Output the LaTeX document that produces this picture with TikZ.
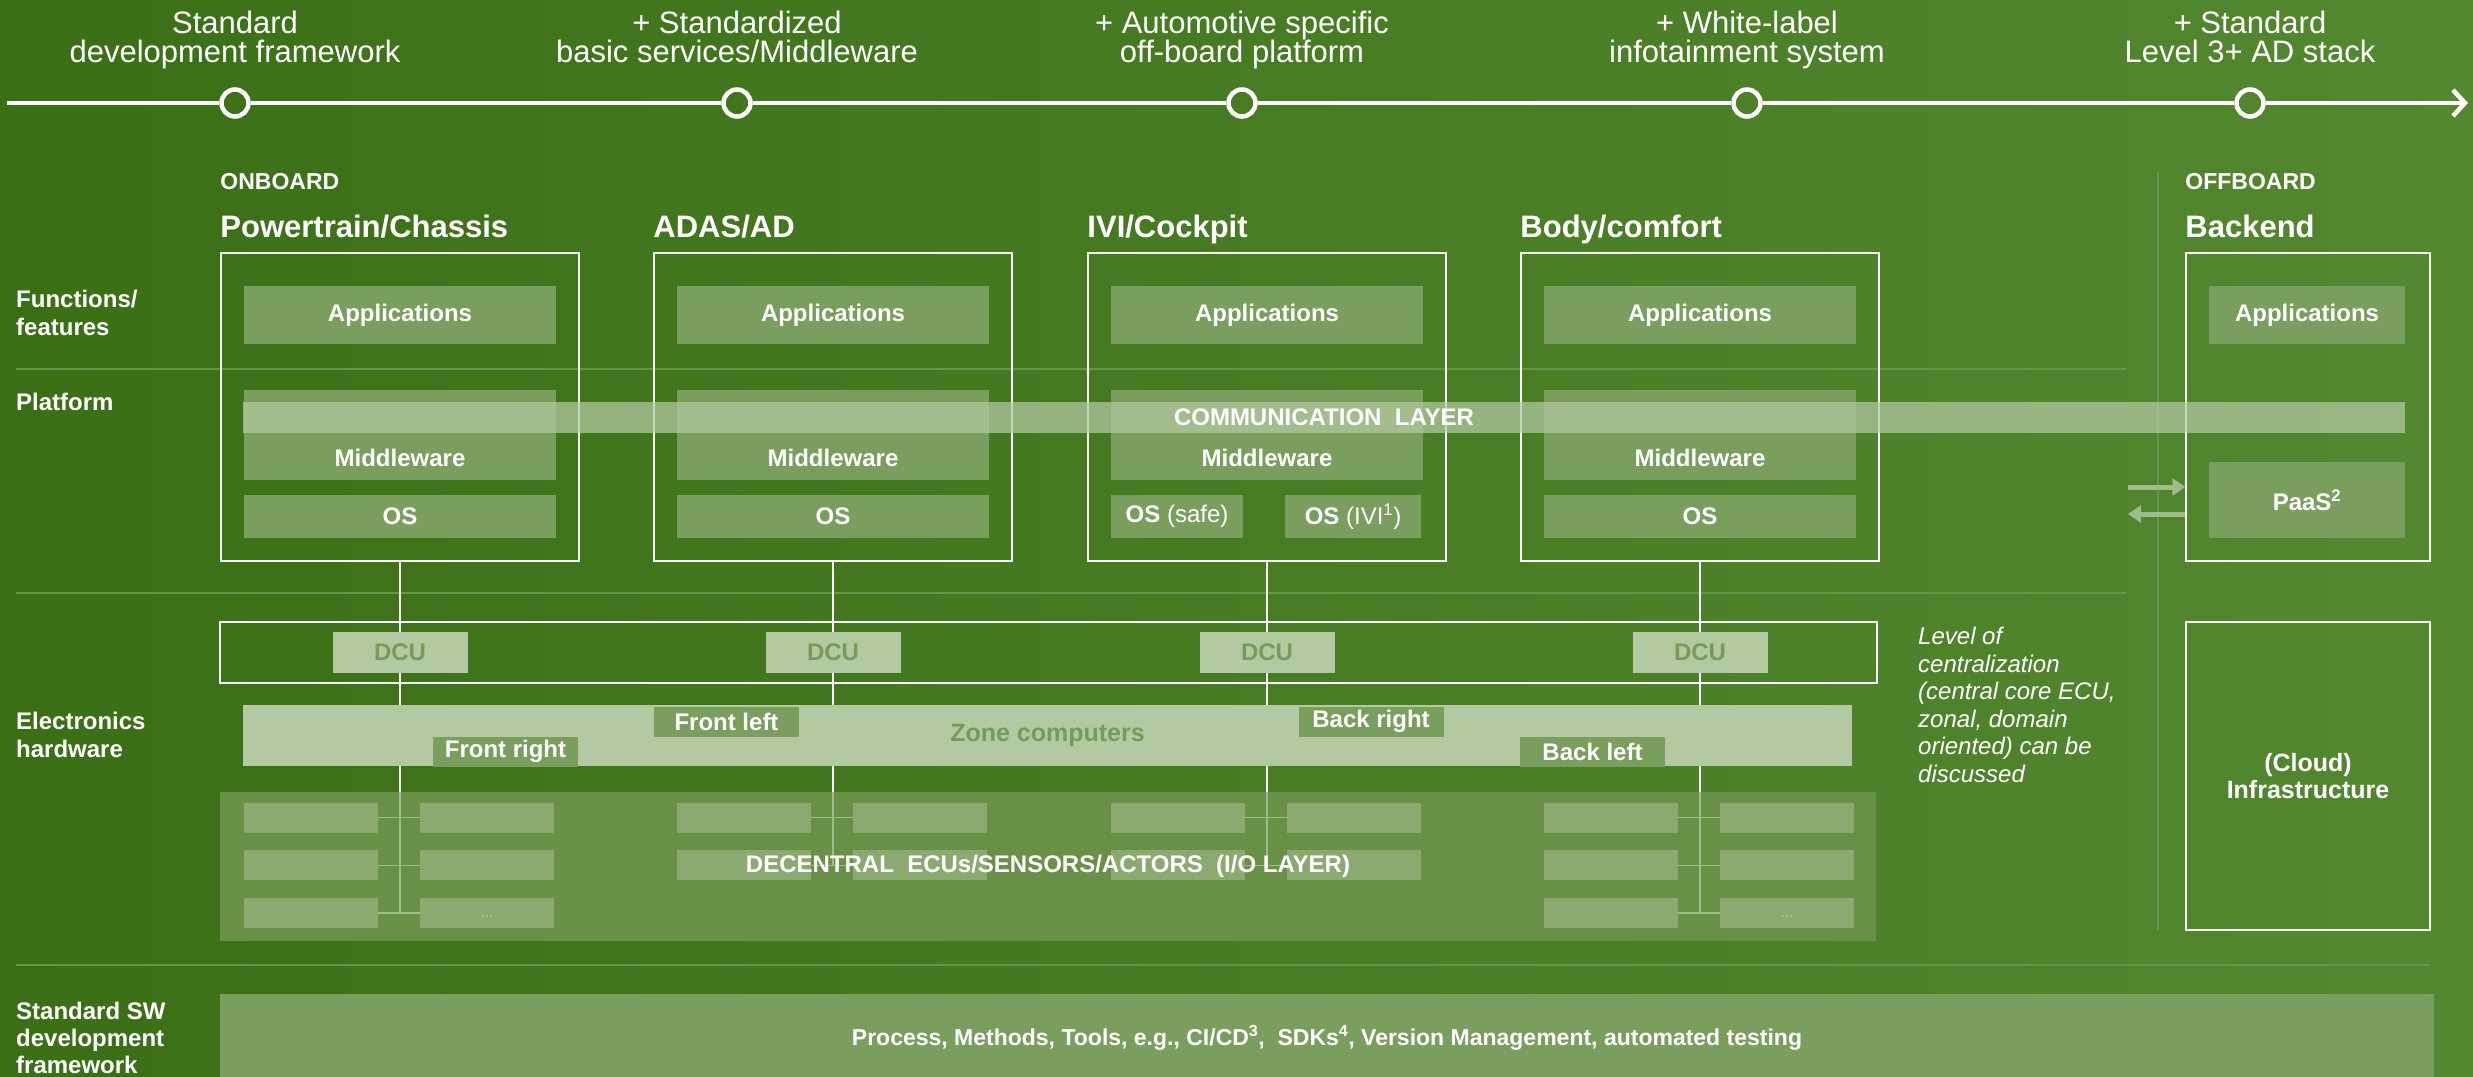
\documentclass[tikz,border=0pt]{standalone}
\usepackage{fontspec}
\setmainfont{Liberation Sans}
\usetikzlibrary{arrows.meta,calc,positioning}

\definecolor{bgL}{RGB}{59,111,22}
\definecolor{bgR}{RGB}{84,136,48}
\definecolor{layer}{RGB}{122,158,94}
\definecolor{pale}{RGB}{179,201,161}
\definecolor{sepc}{RGB}{106,146,76}
\definecolor{ecuarea}{RGB}{104,145,71}
\definecolor{ecubox}{RGB}{138,170,114}
\definecolor{faint}{RGB}{160,188,140}
\definecolor{dcutxt}{RGB}{118,156,90}
\definecolor{dotc}{RGB}{172,196,152}

\newcommand{\fsz}[2]{\fontsize{#1}{#2}\selectfont}

\begin{document}
\begin{tikzpicture}[x=1pt, y=-1pt,
  mile/.style={circle, draw=white, line width=4.5pt, minimum size=27pt, inner sep=0pt},
  tline/.style={white, line width=4.5pt},
  toplbl/.style={text=white, align=center, inner sep=0pt, font=\fsz{31}{29}},
  tag/.style={text=white, inner sep=0pt, font=\bfseries\fsz{23}{28}},
  head/.style={text=white, inner sep=0pt, font=\bfseries\fsz{31}{36}},
  rowlbl/.style={text=white, inner sep=0pt, align=left, font=\bfseries\fsz{24}{28}},
  dom/.style={draw=white, line width=1.5pt, minimum width=358pt, minimum height=308pt, inner sep=0pt},
  lyr/.style={fill=layer, text=white, inner sep=0pt, minimum width=312pt, font=\bfseries\fsz{24}{28}},
  lyrtxt/.style={text=white, inner sep=0pt, font=\bfseries\fsz{24}{28}},
  comm/.style={fill=pale, fill opacity=0.73, text opacity=1, text=white, inner sep=0pt,
    minimum width=2162pt, minimum height=31pt, font=\bfseries\fsz{24}{28}},
  sep/.style={sepc, line width=1.5pt},
  dcu/.style={fill=pale, text=dcutxt, minimum width=135pt, minimum height=41pt, inner sep=0pt, font=\bfseries\fsz{24}{28}},
  zonetag/.style={fill=layer, text=white, minimum width=145pt, minimum height=30pt, inner sep=0pt, font=\bfseries\fsz{24}{28}},
  ecu/.style={fill=ecubox, minimum width=134pt, minimum height=30pt, inner sep=0pt},
  vline/.style={white, line width=1.5pt},
  fline/.style={faint, line width=1.5pt},
  paas/.style={faint, line width=5pt, -{Triangle[length=13pt,width=17pt]}}]

\useasboundingbox (0,0) rectangle (2473,1076);
\shade[left color=bgL, right color=bgR] (0,0) rectangle (2473,1076);

% timeline
\coordinate (tl0) at (7,103);
\coordinate (tl6) at (2468,103);
\foreach \x [count=\i] in {235,737,1242,1747,2250}
  \node[mile] (m\i) at (\x,103) {};
\draw[tline] (tl0) -- (m1) -- (m2) -- (m3) -- (m4) -- (m5);
\draw[tline, -{Straight Barb[length=12pt,width=26pt]}] (m5) -- (tl6);
\node[toplbl, anchor=north] (t1) at ($(m1)+(0,-92)$) {Standard\\development framework};
\node[toplbl, anchor=north] (t2) at ($(m2)+(0,-92)$) {+ Standardized\\basic services/Middleware};
\node[toplbl, anchor=north] (t3) at ($(m3)+(0,-92)$) {+ Automotive specific\\off-board platform};
\node[toplbl, anchor=north] (t4) at ($(m4)+(0,-92)$) {+ White-label\\infotainment system};
\node[toplbl, anchor=north] (t5) at ($(m5)+(0,-92)$) {+ Standard\\Level 3+ AD stack};

% row separators
\draw[sep] (16,369) -- (2126,369);
\draw[sep] (16,593) -- (2126,593);
\draw[sep] (16,965) -- (2429,965);
\draw[sep] (2158,172) -- (2158,930);

\node[rowlbl, anchor=north west] (r1) at (16,290) {Functions/\\features};
\node[rowlbl, anchor=north west] (r2) at (16,393) {Platform};
\node[rowlbl, anchor=north west] (r3) at (16,712) {Electronics\\hardware};
\node[rowlbl, anchor=north west, font=\bfseries\fsz{24}{27}] (r4) at (16,1002) {Standard SW\\development\\framework};

% onboard domains
\foreach \n/\x in {pt/400, adas/833, ivi/1267, body/1700} {
  \node[dom] (\n) at (\x,407) {};
  \node[lyr, minimum height=58pt] (\n-app) at (\x,315) {Applications};
  \node[lyr, minimum height=90pt] (\n-mw) at (\x,435) {};
  \node[lyrtxt] (\n-mwt) at ($(\n-mw.south)+(0,-22)$) {Middleware};
}
\foreach \n in {pt, adas, body}
  \node[lyr, minimum height=43pt] (\n-os) at (\n |- 0,516.5) {OS};
\node[lyr, minimum width=132pt, minimum height=43pt] (ivi-os1) at (1177,516.5) {OS \mdseries(safe)};
\node[lyr, minimum width=136pt, minimum height=43pt] (ivi-os2) at (1353,516.5) {OS \mdseries(IVI\textsuperscript{1})};

\node[tag, anchor=base west] (onb) at ($(pt.north west)+(0,-63)$) {ONBOARD};
\node[head, anchor=base west] (pt-h) at ($(pt.north west)+(0,-15)$) {Powertrain/Chassis};
\node[head, anchor=base west] (adas-h) at ($(adas.north west)+(0,-15)$) {ADAS/AD};
\node[head, anchor=base west] (ivi-h) at ($(ivi.north west)+(0,-15)$) {IVI/Cockpit};
\node[head, anchor=base west] (body-h) at ($(body.north west)+(0,-15)$) {Body/comfort};

% offboard
\node[dom, minimum width=244pt] (be) at (2308,407) {};
\node[lyr, minimum width=196pt, minimum height=58pt] (be-app) at (2307,315) {Applications};
\node[lyr, minimum width=196pt, minimum height=76pt] (paas) at (2307,500) {PaaS\textsuperscript{2}};
\node[tag, anchor=base west] (offb) at ($(be.north west)+(0,-63)$) {OFFBOARD};
\node[head, anchor=base west] (be-h) at ($(be.north west)+(0,-15)$) {Backend};
\coordinate (ar1) at (2128,487);
\coordinate (ar2) at (2128,514);
\draw[paas] (ar1) -- (ar1 -| be.west);
\draw[paas] (ar2 -| be.west) -- (ar2);

\node[comm] (comm) at (1324,417.5) {COMMUNICATION\ \ LAYER};

% electronics hardware
\node[dom, minimum width=1657pt, minimum height=61pt] (dcurow) at (1048.5,652.5) {};
\node[fill=pale, minimum width=1609pt, minimum height=61pt, inner sep=0pt,
  text=dcutxt, font=\bfseries\fsz{25}{28}] (zone) at (1047.5,735.5) {Zone computers};
\node[fill=ecuarea, minimum width=1656pt, minimum height=149pt, inner sep=0pt] (io) at (1048,866.5) {};

\foreach \n/\x/\r in {pt/400/3, adas/833/2, ivi/1267/2, body/1700/3} {
  \node[dcu] (\n-dcu) at (\x,652.5) {DCU};
  \draw[vline] (\n) -- (\n-dcu);
  \draw[vline] (\n-dcu) -- (\n-dcu |- zone.north);
  \draw[vline] (\n-dcu |- zone.south) -- (\n-dcu |- io.north);
  \foreach \k in {1,...,\r} {
    \pgfmathsetmacro\ry{817.5+(\k-1)*47.75}
    \node[ecu] (\n-l\k) at ({\x-89},\ry) {};
    \node[ecu] (\n-r\k) at ({\x+87},\ry) {};
    \draw[fline] (\n-l\k) -- (\n-r\k);
  }
  \draw[fline] (\n-dcu |- io.north) -- (\n-dcu |- \n-l\r);
}
\node[text=dotc, font=\fsz{16}{18}] (pt-dots) at ($(pt-r3)+(0,4)$) {...};
\node[text=dotc, font=\fsz{16}{18}] (body-dots) at ($(body-r3)+(0,4)$) {...};

\node[zonetag] (fr) at (505.5,751.5) {Front right};
\node[zonetag] (fl) at (726.5,721.5) {Front left};
\node[zonetag] (br) at (1371,721.5) {Back right};
\node[zonetag] (bl) at (1592.5,751.5) {Back left};

\node[lyrtxt] (iot) at (io) {DECENTRAL\ \ ECUs/SENSORS/ACTORS\ \ (I/O LAYER)};

\node[text=white, inner sep=0pt, align=left, anchor=north west, font=\itshape\fsz{24}{27.5}] (note) at (1918,627)
  {Level of\\centralization\\(central core ECU,\\zonal, domain\\oriented) can be\\discussed};

\node[dom, minimum width=244pt, align=center, text=white, font=\bfseries\fsz{25}{27}] (cloud) at (2308,776) {(Cloud)\\Infrastructure};

% sw framework
\node[lyr, minimum width=2214pt, minimum height=88pt, font=\bfseries\fsz{23}{28}] (sw) at (1327,1038)
  {Process, Methods, Tools, e.g., CI/CD\textsuperscript{3},\ \ SDKs\textsuperscript{4}, Version Management, automated testing};
\end{tikzpicture}
\end{document}
